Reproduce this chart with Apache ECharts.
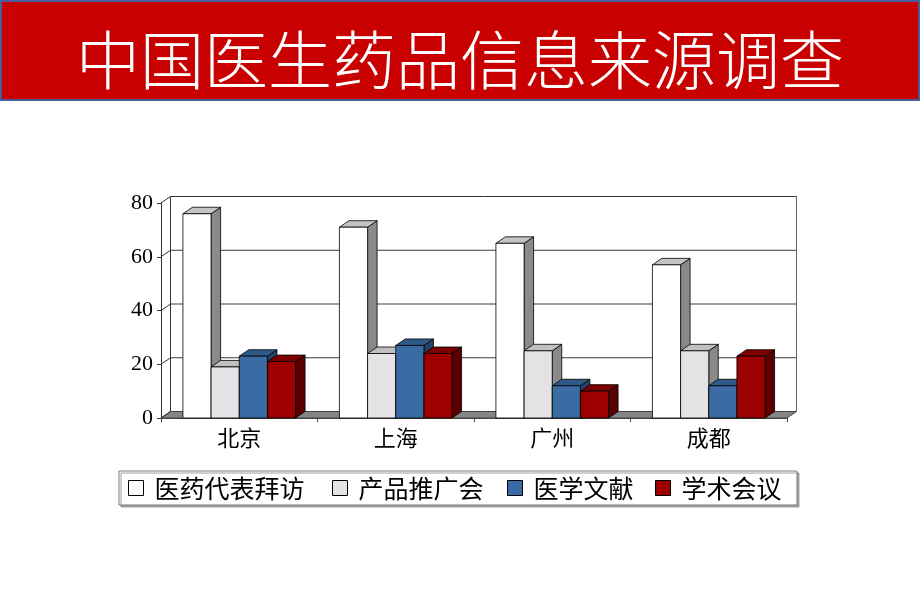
<!DOCTYPE html>
<html><head><meta charset="utf-8">
<script src="https://cdn.jsdelivr.net/npm/echarts@6/dist/echarts.min.js"></script>
<style>html,body{margin:0;padding:0;background:#fff}#c{width:920px;height:608px}</style>
</head><body><div id="c"></div>
<script>
const categories = ['北京', '上海', '广州', '成都'];
const seriesNames = ['医药代表拜访', '产品推广会', '医学文献', '学术会议'];
const repVisits = [76, 71, 65, 57];
const productMeetings = [19, 24, 25, 25];
const literature = [23, 27, 12, 12];
const conferences = [21, 24, 10, 23];
const yTicks = [0, 20, 40, 60, 80];
const titleText = '中国医生药品信息来源调查';

const seriesValues = [repVisits, productMeetings, literature, conferences];
const palettes = [
  {front: '#ffffff', top: '#c4c4c4', side: '#8a8a8a'},
  {front: '#e4e2e4', top: '#c0c0c0', side: '#8a8a8a'},
  {front: '#3a6ba3', top: '#2e5a88', side: '#214468'},
  {front: '#9c0000', top: '#7c0000', side: '#5a0000'}
];
const DX = 9.5, DY = -6.5;
const CJK = '"Noto Sans CJK SC", sans-serif';

const chart = echarts.init(document.getElementById('c'), null, {renderer: 'canvas'});

function barRender(si) {
  return function (params, api) {
    const c = api.value(0), v = api.value(1);
    const base = api.coord([c, 0]);
    const top = api.coord([c, v]);
    const band = api.size([1, 0])[0];
    const bw = band * 0.18;
    const x0 = base[0] - 2 * bw + si * bw;
    const yb = base[1], yt = top[1];
    const p = palettes[si];
    const st = {stroke: '#000', lineWidth: 0.8};
    return {
      type: 'group',
      children: [
        {type: 'polygon', shape: {points: [[x0 + bw, yt], [x0 + bw, yb], [x0 + bw + DX, yb + DY], [x0 + bw + DX, yt + DY]]},
          style: Object.assign({fill: p.side}, st)},
        {type: 'polygon', shape: {points: [[x0, yt], [x0 + bw, yt], [x0 + bw + DX, yt + DY], [x0 + DX, yt + DY]]},
          style: Object.assign({fill: p.top}, st)},
        {type: 'rect', shape: {x: x0, y: yt, width: bw, height: yb - yt},
          style: Object.assign({fill: p.front}, st)}
      ]
    };
  };
}

function frameRender(params, api) {
  const cs = params.coordSys;
  const x = cs.x, y = cs.y, w = cs.width, h = cs.height;
  const ch = [];
  const line = (x1, y1, x2, y2, col) => ({type: 'line', shape: {x1, y1, x2, y2}, style: {stroke: col || '#333', lineWidth: 1}});
  // floor
  ch.push({type: 'polygon', shape: {points: [[x, y + h], [x + w, y + h], [x + w + DX, y + h + DY], [x + DX, y + h + DY]]},
    style: {fill: '#858585', stroke: '#444', lineWidth: 1}});
  // back-left vertical, back-right vertical, back top
  ch.push(line(x + DX, y + DY, x + DX, y + h + DY));
  ch.push(line(x + w + DX, y + DY, x + w + DX, y + h + DY, '#666'));
  ch.push(line(x + DX, y + DY, x + w + DX, y + DY));
  yTicks.forEach(t => {
    const py = api.coord([0, t])[1];
    ch.push(line(x, py, x + DX, py + DY));
    if (t !== 0 && t !== yTicks[yTicks.length - 1]) ch.push(line(x + DX, py + DY, x + w + DX, py + DY, '#3a3a3a'));
  });
  return {type: 'group', children: ch};
}

const series = [{
  type: 'custom', name: 'frame', z: 1, silent: true,
  renderItem: frameRender, data: [[0, 0]], clip: false
}];
seriesNames.forEach((n, si) => {
  series.push({
    type: 'custom', name: n, z: 2 + si,
    itemStyle: {color: palettes[si].front, borderColor: '#000', borderWidth: 1},
    renderItem: barRender(si),
    encode: {x: 0, y: 1},
    data: categories.map((c, i) => [i, seriesValues[si][i]])
  });
});

const legendLefts = [128, 332, 507, 655];
const legends = seriesNames.map((n, si) => ({
  data: [{name: n, icon: 'rect', itemStyle: {color: palettes[si].front, borderColor: '#000', borderWidth: 1}}],
  left: legendLefts[si], top: 475, padding: 0,
  itemWidth: 15, itemHeight: 15,
  selectedMode: false,
  textStyle: {fontSize: 25, lineHeight: 26, fontFamily: CJK, color: '#000', padding: [0, 0, 0, 6]}
}));

chart.setOption({
  animation: false,
  backgroundColor: '#ffffff',
  title: {
    text: titleText, left: 'center', top: 27, padding: 0,
    textStyle: {color: '#ffffff', fontSize: 64, lineHeight: 66, fontFamily: CJK, fontWeight: 300}
  },
  graphic: [
    {type: 'rect', z: 0, shape: {x: 1, y: 1, width: 918, height: 99},
      style: {fill: '#c80000', stroke: '#4a5d9a', lineWidth: 2}},
    {type: 'rect', z: 0, shape: {x: 119, y: 471, width: 678, height: 34},
      style: {fill: '#fff', stroke: '#7a7a7a', lineWidth: 1, shadowColor: '#a0a0a0', shadowOffsetX: 2, shadowOffsetY: 2, shadowBlur: 0}}
  ],
  legend: legends,
  grid: {left: 161, top: 203, width: 626, height: 215, containLabel: false},
  xAxis: {
    type: 'category', data: categories,
    axisLine: {show: true, lineStyle: {color: '#444', width: 1}},
    axisTick: {show: true, length: 4, lineStyle: {color: '#444'}},
    axisLabel: {margin: 9, fontSize: 22, fontFamily: CJK, color: '#000'},
    splitLine: {show: false}
  },
  yAxis: {
    type: 'value', min: 0, max: 80, interval: 20,
    axisLine: {show: true, lineStyle: {color: '#333', width: 1}},
    axisTick: {show: true, length: 4, lineStyle: {color: '#333'}},
    axisLabel: {margin: 8, fontSize: 22, fontFamily: '"Liberation Serif", serif', color: '#000'},
    splitLine: {show: false}
  },
  series: series
});
</script></body></html>
